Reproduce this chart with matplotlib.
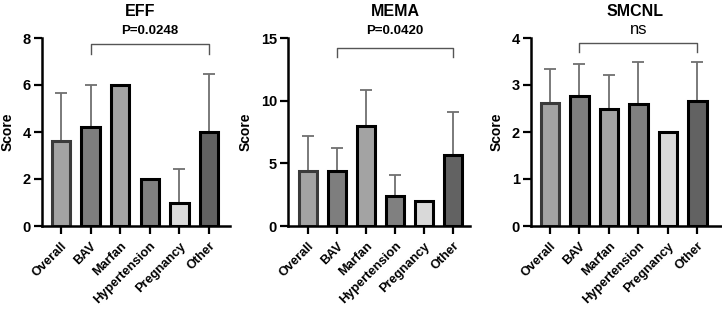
import matplotlib
matplotlib.use("Agg")
import matplotlib.pyplot as plt
import numpy as np

plt.rcParams['font.family'] = ['Liberation Sans', 'DejaVu Sans']
plt.rcParams['font.weight'] = 'bold'

categories = ["Overall", "BAV", "Marfan", "Hypertension", "Pregnancy", "Other"]

eff_mean = [3.6, 4.2, 6.0, 2.0, 1.0, 4.0]
eff_upper = [5.67, 6.02, 6.0, 2.0, 2.43, 6.47]

mema_mean = [4.4, 4.4, 8.0, 2.4, 2.0, 5.65]
mema_upper = [7.15, 6.25, 10.85, 4.05, 2.0, 9.1]

smcnl_mean = [2.62, 2.77, 2.5, 2.6, 2.0, 2.66]
smcnl_upper = [3.34, 3.44, 3.21, 3.5, 2.0, 3.48]

titles = ["EFF", "MEMA", "SMCNL"]
pvals = ["P=0.0248", "P=0.0420", "ns"]
yticks = [[0, 2, 4, 6, 8], [0, 5, 10, 15], [0, 1, 2, 3, 4]]
ylims = [8, 15, 4]

face_colors = ["#a3a3a3", "#7e7e7e", "#a3a3a3", "#808080", "#d9d9d9", "#626262"]
edge_colors = ["#3a3a3a", "#000000", "#000000", "#000000", "#000000", "#000000"]

W, H = 722, 311
fig = plt.figure(figsize=(W / 100, H / 100), dpi=100)
positions = [(42, 230), (288, 470), (531, 721)]
xlims = [(-0.64, 5.71), (-0.69, 5.59), (-0.64, 5.8)]
bracket = [(7.74, 7.32), (14.2, 13.5), (3.89, 3.70)]
title_x = [140, 395, 635]
bottom, top = 1 - 226 / H, 1 - 38 / H

datasets = [(eff_mean, eff_upper), (mema_mean, mema_upper), (smcnl_mean, smcnl_upper)]

for i, (mean, upper) in enumerate(datasets):
    l, r = positions[i]
    ax = fig.add_axes([l / W, bottom, (r - l) / W, top - bottom])
    x = np.arange(len(categories))
    mean = np.array(mean)
    upper = np.array(upper)
    err = [np.zeros_like(mean), upper - mean]
    ax.errorbar(x, mean, yerr=err, fmt='none', ecolor='#707070', elinewidth=1.3,
                capsize=4, capthick=1.3, zorder=1)
    ax.bar(x, mean, width=0.62, color=face_colors, edgecolor=edge_colors,
           linewidth=2.2, zorder=2)
    ax.set_xlim(*xlims[i])
    ax.set_ylim(0, ylims[i])
    ax.set_yticks(yticks[i])
    ax.set_xticks(x)
    ax.set_xticklabels(categories, rotation=45, ha='right', rotation_mode='anchor',
                       fontsize=9.2, fontweight='bold')
    for lab in ax.get_yticklabels():
        lab.set_fontsize(10.5)
        lab.set_fontweight('bold')
    ax.set_ylabel("Score", fontsize=10, fontweight='bold', labelpad=6)
    for s in ['top', 'right']:
        ax.spines[s].set_visible(False)
    for s in ['left', 'bottom']:
        ax.spines[s].set_linewidth(1.8)
    ax.tick_params(axis='both', direction='out', length=6, width=1.6, pad=2)
    ax.tick_params(axis='x', pad=4)
    # bracket BAV - Other
    yb, ye = bracket[i]
    ax.plot([1, 1, 5, 5], [ye, yb, yb, ye], color='#555555', lw=1.0,
            clip_on=False, zorder=3)
    ax.text(3, ylims[i] * 1.005, pvals[i], ha='center', va='bottom',
            fontsize=9.5 if pvals[i] != "ns" else 12,
            fontweight='bold' if pvals[i] != "ns" else 'normal')
    fig.text(title_x[i] / W, 1 - 11 / H, titles[i], ha='center', va='center',
             fontsize=11.5, fontweight='bold')

fig.savefig("out.png", dpi=100)
